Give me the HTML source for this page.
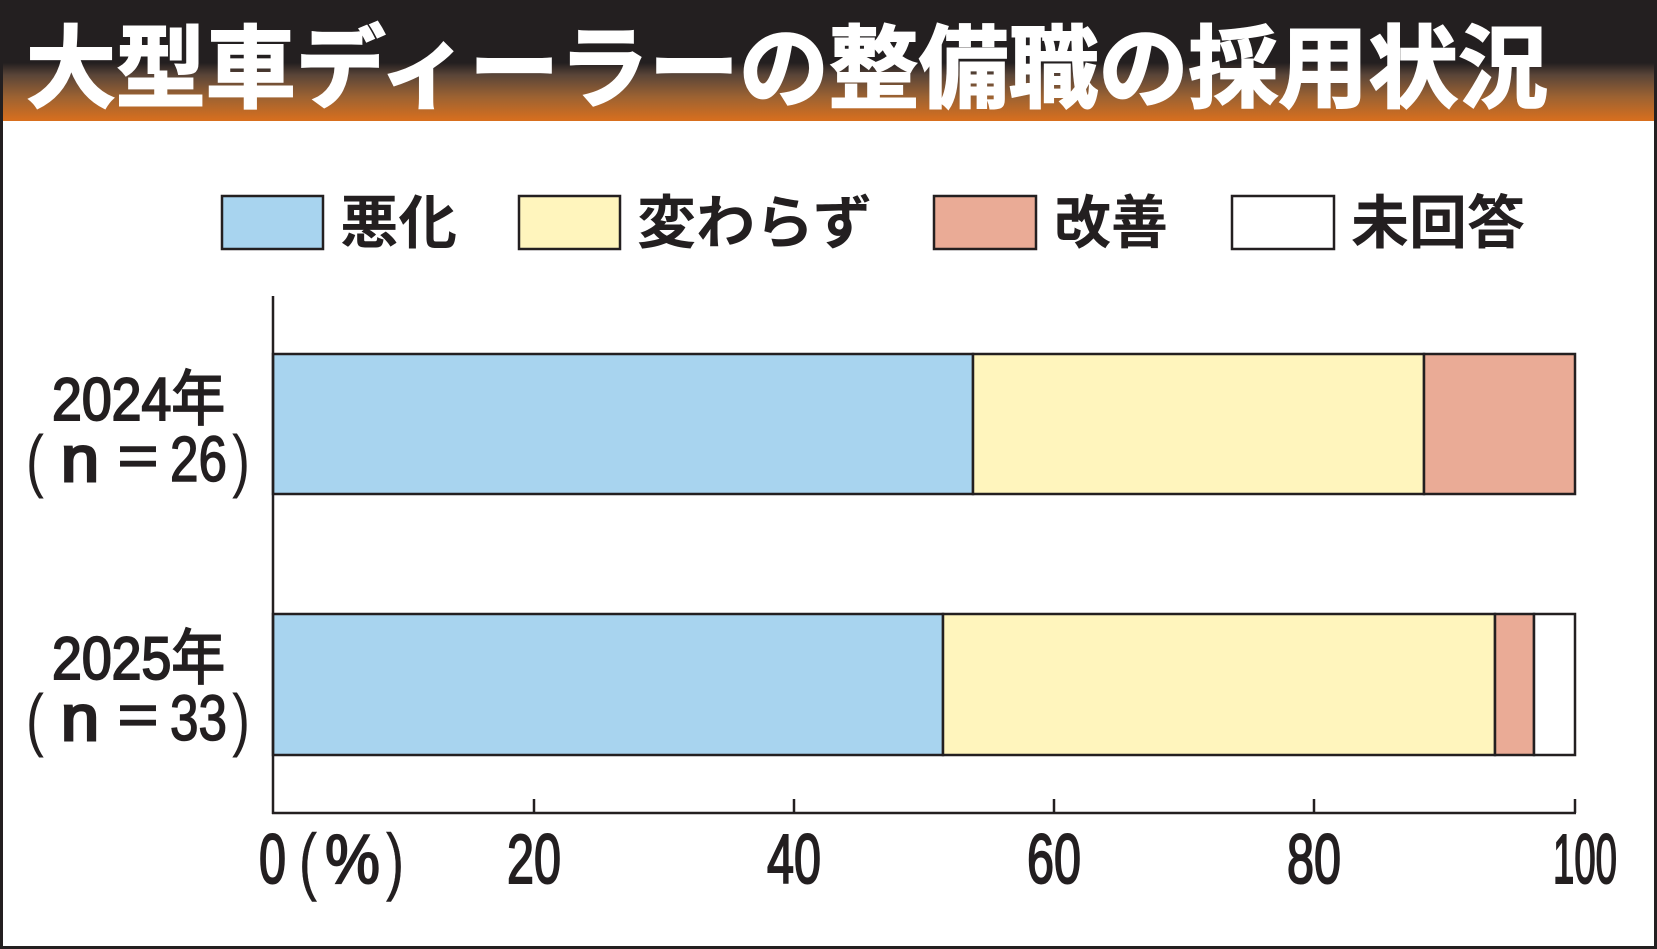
<!DOCTYPE html>
<html><head><meta charset="utf-8"><style>
html,body{margin:0;padding:0;background:#fff;}
svg{display:block;}
</style></head><body>
<svg width="1657" height="949" viewBox="0 0 1657 949" xmlns="http://www.w3.org/2000/svg">
<defs>
<linearGradient id="hg" x1="0" y1="0" x2="0" y2="1">
<stop offset="0" stop-color="#231f20"/>
<stop offset="0.52" stop-color="#231f20"/>
<stop offset="0.62" stop-color="#5a4538"/>
<stop offset="0.8" stop-color="#9c6232"/>
<stop offset="1" stop-color="#d96f1e"/>
</linearGradient>
</defs>
<rect x="0" y="0" width="1657" height="949" fill="#fff"/>
<rect x="0" y="0" width="1657" height="121" fill="url(#hg)"/>
<rect x="1.5" y="1.5" width="1654" height="946" fill="none" stroke="#231f20" stroke-width="3"/>
<text x="26" y="100" fill="#fff" font-family="'Liberation Sans','Noto Sans CJK JP',sans-serif" font-weight="bold" font-size="90" textLength="1522" lengthAdjust="spacingAndGlyphs" stroke="#fff" stroke-width="2">大型車ディーラーの整備職の採用状況</text>

<g font-family="'Liberation Sans','Noto Sans CJK JP',sans-serif" font-weight="bold" font-size="58" fill="#231f20">
<rect x="222" y="196" width="101" height="53" fill="#a8d4ef" stroke="#231f20" stroke-width="2.5"/>
<text x="340" y="243" textLength="117" lengthAdjust="spacingAndGlyphs">悪化</text>
<rect x="519" y="196" width="101" height="53" fill="#fff5bd" stroke="#231f20" stroke-width="2.5"/>
<text x="637" y="243" textLength="235" lengthAdjust="spacingAndGlyphs">変わらず</text>
<rect x="934" y="196" width="102" height="53" fill="#eaab96" stroke="#231f20" stroke-width="2.5"/>
<text x="1054" y="243" textLength="114" lengthAdjust="spacingAndGlyphs">改善</text>
<rect x="1232" y="196" width="102" height="53" fill="#fff" stroke="#231f20" stroke-width="2.5"/>
<text x="1351" y="243" textLength="174" lengthAdjust="spacingAndGlyphs">未回答</text>
</g>

<g stroke="#231f20" stroke-width="2.5">
<rect x="273" y="354" width="700" height="140" fill="#a8d4ef"/>
<rect x="973" y="354" width="451" height="140" fill="#fff5bd"/>
<rect x="1424" y="354" width="151" height="140" fill="#eaab96"/>
<rect x="273" y="614" width="670" height="141" fill="#a8d4ef"/>
<rect x="943" y="614" width="552" height="141" fill="#fff5bd"/>
<rect x="1495" y="614" width="39" height="141" fill="#eaab96"/>
<rect x="1534" y="614" width="41" height="141" fill="#fff"/>
<line x1="273" y1="296" x2="273" y2="814"/>
<line x1="272" y1="813" x2="1576" y2="813"/>
<line x1="534" y1="799" x2="534" y2="813"/>
<line x1="794" y1="799" x2="794" y2="813"/>
<line x1="1054" y1="799" x2="1054" y2="813"/>
<line x1="1314" y1="799" x2="1314" y2="813"/>
<line x1="1575" y1="799" x2="1575" y2="813"/>
</g>

<g font-family="'Liberation Sans','Noto Sans CJK JP',sans-serif" fill="#231f20" stroke="#231f20" stroke-width="2">
<text x="52" y="420" font-size="60" textLength="173" lengthAdjust="spacingAndGlyphs">2024年</text>
<text x="52" y="679" font-size="60" textLength="173" lengthAdjust="spacingAndGlyphs">2025年</text>
</g>
<g font-family="'Liberation Sans','Noto Sans CJK JP',sans-serif" fill="#231f20" stroke="#231f20" stroke-width="1.5" font-size="64">
<text x="26" y="484" font-size="70" stroke-width="0" textLength="18" lengthAdjust="spacingAndGlyphs">(</text>
<text x="61" y="481" textLength="38" lengthAdjust="spacingAndGlyphs" stroke-width="3">n</text>
<text x="114" y="481" textLength="48" lengthAdjust="spacingAndGlyphs">＝</text>
<text x="170" y="481" textLength="57" lengthAdjust="spacingAndGlyphs">26</text>
<text x="232" y="484" font-size="70" stroke-width="0" textLength="18" lengthAdjust="spacingAndGlyphs">)</text>
<text x="26" y="743" font-size="70" stroke-width="0" textLength="18" lengthAdjust="spacingAndGlyphs">(</text>
<text x="61" y="740" textLength="38" lengthAdjust="spacingAndGlyphs" stroke-width="3">n</text>
<text x="114" y="740" textLength="48" lengthAdjust="spacingAndGlyphs">＝</text>
<text x="170" y="740" textLength="57" lengthAdjust="spacingAndGlyphs">33</text>
<text x="232" y="743" font-size="70" stroke-width="0" textLength="18" lengthAdjust="spacingAndGlyphs">)</text>
</g>
<g font-family="'Liberation Sans','Noto Sans CJK JP',sans-serif" font-size="70" fill="#231f20" stroke="#231f20" stroke-width="2">
<text x="259" y="883" textLength="27" lengthAdjust="spacingAndGlyphs">0</text>
<text x="299" y="886" font-size="74" stroke-width="0.5" textLength="18" lengthAdjust="spacingAndGlyphs">(</text>
<text x="325" y="883" textLength="55" lengthAdjust="spacingAndGlyphs">%</text>
<text x="386" y="886" font-size="74" stroke-width="0.5" textLength="18" lengthAdjust="spacingAndGlyphs">)</text>
<text x="507" y="883" textLength="54" lengthAdjust="spacingAndGlyphs">20</text>
<text x="767" y="883" textLength="54" lengthAdjust="spacingAndGlyphs">40</text>
<text x="1027" y="883" textLength="54" lengthAdjust="spacingAndGlyphs">60</text>
<text x="1287" y="883" textLength="54" lengthAdjust="spacingAndGlyphs">80</text>
<text x="1553" y="883" textLength="64" lengthAdjust="spacingAndGlyphs">100</text>
</g>
</svg>
</body></html>
